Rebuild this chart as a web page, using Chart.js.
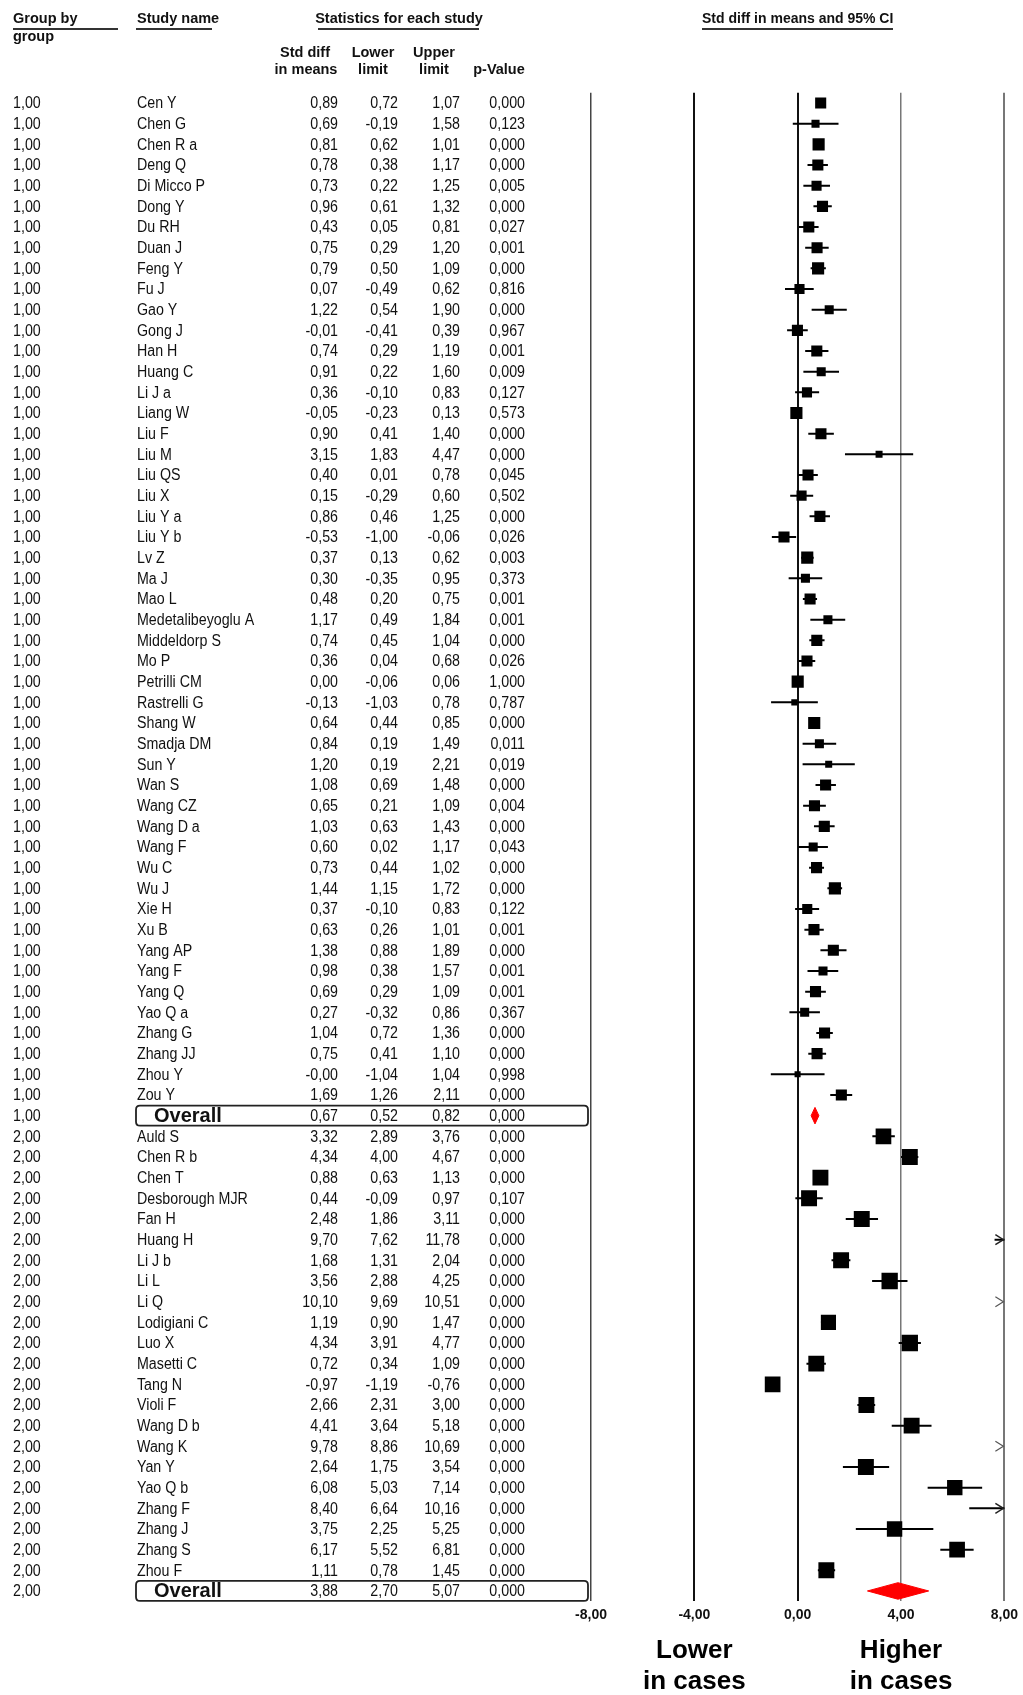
<!DOCTYPE html>
<html>
<head>
<meta charset="utf-8">
<title>Std diff in means and 95% CI</title>
<script src="https://cdn.jsdelivr.net/npm/chart.js@4.4.1/dist/chart.umd.min.js"></script>
<style>
  body { margin: 0; background: #fff; }
  #wrap { position: relative; width: 1023px; height: 1695px; }
</style>
</head>
<body>
<div id="wrap"><canvas id="forest"></canvas></div>
<script>
var groupLabels = ['1,00', '2,00'];

// group 1
var names1 = ['Cen Y', 'Chen G', 'Chen R a', 'Deng Q', 'Di Micco P', 'Dong Y', 'Du RH', 'Duan J', 'Feng Y', 'Fu J',
  'Gao Y', 'Gong J', 'Han H', 'Huang C', 'Li J a', 'Liang W', 'Liu F', 'Liu M', 'Liu QS', 'Liu X',
  'Liu Y a', 'Liu Y b', 'Lv Z', 'Ma J', 'Mao L', 'Medetalibeyoglu A', 'Middeldorp S', 'Mo P', 'Petrilli CM', 'Rastrelli G',
  'Shang W', 'Smadja DM', 'Sun Y', 'Wan S', 'Wang CZ', 'Wang D a', 'Wang F', 'Wu C', 'Wu J', 'Xie H',
  'Xu B', 'Yang AP', 'Yang F', 'Yang Q', 'Yao Q a', 'Zhang G', 'Zhang JJ', 'Zhou Y', 'Zou Y'];
var effect1 = [0.89, 0.69, 0.81, 0.78, 0.73, 0.96, 0.43, 0.75, 0.79, 0.07,
  1.22, -0.01, 0.74, 0.91, 0.36, -0.05, 0.90, 3.15, 0.40, 0.15,
  0.86, -0.53, 0.37, 0.30, 0.48, 1.17, 0.74, 0.36, 0.00, -0.13,
  0.64, 0.84, 1.20, 1.08, 0.65, 1.03, 0.60, 0.73, 1.44, 0.37,
  0.63, 1.38, 0.98, 0.69, 0.27, 1.04, 0.75, -0.004, 1.69];
var lower1 = [0.72, -0.19, 0.62, 0.38, 0.22, 0.61, 0.05, 0.29, 0.50, -0.49,
  0.54, -0.41, 0.29, 0.22, -0.10, -0.23, 0.41, 1.83, 0.01, -0.29,
  0.46, -1.00, 0.13, -0.35, 0.20, 0.49, 0.45, 0.04, -0.06, -1.03,
  0.44, 0.19, 0.19, 0.69, 0.21, 0.63, 0.02, 0.44, 1.15, -0.10,
  0.26, 0.88, 0.38, 0.29, -0.32, 0.72, 0.41, -1.04, 1.26];
var upper1 = [1.07, 1.58, 1.01, 1.17, 1.25, 1.32, 0.81, 1.20, 1.09, 0.62,
  1.90, 0.39, 1.19, 1.60, 0.83, 0.13, 1.40, 4.47, 0.78, 0.60,
  1.25, -0.06, 0.62, 0.95, 0.75, 1.84, 1.04, 0.68, 0.06, 0.78,
  0.85, 1.49, 2.21, 1.48, 1.09, 1.43, 1.17, 1.02, 1.72, 0.83,
  1.01, 1.89, 1.57, 1.09, 0.86, 1.36, 1.10, 1.04, 2.11];
var pValue1 = [0.000, 0.123, 0.000, 0.000, 0.005, 0.000, 0.027, 0.001, 0.000, 0.816,
  0.000, 0.967, 0.001, 0.009, 0.127, 0.573, 0.000, 0.000, 0.045, 0.502,
  0.000, 0.026, 0.003, 0.373, 0.001, 0.001, 0.000, 0.026, 1.000, 0.787,
  0.000, 0.011, 0.019, 0.000, 0.004, 0.000, 0.043, 0.000, 0.000, 0.122,
  0.001, 0.000, 0.001, 0.001, 0.367, 0.000, 0.000, 0.998, 0.000];
// relative weights (square area)
var weight1 = [3.0, 1.6, 3.6, 3.0, 2.5, 3.0, 3.0, 3.0, 3.6, 2.5,
  2.0, 3.0, 3.0, 2.0, 2.5, 3.6, 3.0, 1.2, 3.0, 2.5,
  3.0, 3.0, 3.6, 2.0, 3.0, 2.0, 3.0, 3.0, 3.6, 0.9,
  3.6, 2.0, 1.2, 3.0, 3.0, 3.0, 2.0, 3.0, 3.6, 2.5,
  3.0, 3.0, 2.0, 3.0, 2.0, 3.0, 3.0, 0.9, 3.0];

// group 2
var names2 = ['Auld S', 'Chen R b', 'Chen T', 'Desborough MJR', 'Fan H', 'Huang H', 'Li J b', 'Li L', 'Li Q', 'Lodigiani C',
  'Luo X', 'Masetti C', 'Tang N', 'Violi F', 'Wang D b', 'Wang K', 'Yan Y', 'Yao Q b', 'Zhang F', 'Zhang J',
  'Zhang S', 'Zhou F'];
var effect2 = [3.32, 4.34, 0.88, 0.44, 2.48, 9.70, 1.68, 3.56, 10.10, 1.19,
  4.34, 0.72, -0.97, 2.66, 4.41, 9.78, 2.64, 6.08, 8.40, 3.75,
  6.17, 1.11];
var lower2 = [2.89, 4.00, 0.63, -0.09, 1.86, 7.62, 1.31, 2.88, 9.69, 0.90,
  3.91, 0.34, -1.19, 2.31, 3.64, 8.86, 1.75, 5.03, 6.64, 2.25,
  5.52, 0.78];
var upper2 = [3.76, 4.67, 1.13, 0.97, 3.11, 11.78, 2.04, 4.25, 10.51, 1.47,
  4.77, 1.09, -0.76, 3.00, 5.18, 10.69, 3.54, 7.14, 10.16, 5.25,
  6.81, 1.45];
var pValue2 = [0.000, 0.000, 0.000, 0.107, 0.000, 0.000, 0.000, 0.000, 0.000, 0.000,
  0.000, 0.000, 0.000, 0.000, 0.000, 0.000, 0.000, 0.000, 0.000, 0.000,
  0.000, 0.000];
var weight2 = [6.0, 6.2, 6.2, 6.2, 6.2, 5.8, 6.2, 6.5, 6.2, 5.6,
  6.5, 6.2, 6.0, 6.2, 6.2, 6.0, 6.2, 5.8, 5.6, 5.8,
  6.0, 6.2];

var overallEffect = [0.67, 3.88];
var overallLower = [0.52, 2.70];
var overallUpper = [0.82, 5.07];
var overallP = [0.000, 0.000];

var xTicks = [-8, -4, 0, 4, 8];

var rows = [];
function addGroup(g, names, es, lo, hi, p, w) {
  for (var i = 0; i < names.length; i++) {
    rows.push({ group: groupLabels[g], name: names[i], es: es[i], lo: lo[i], hi: hi[i], p: p[i], w: w[i], overall: false });
  }
  rows.push({ group: groupLabels[g], name: 'Overall', es: overallEffect[g], lo: overallLower[g], hi: overallUpper[g], p: overallP[g], overall: true });
}
addGroup(0, names1, effect1, lower1, upper1, pValue1, weight1);
addGroup(1, names2, effect2, lower2, upper2, pValue2, weight2);

function fmt(v, d) {
  return v.toFixed(d).replace('.', ',');
}

var ciPoints = [];
var squarePoints = [];
var squareRadius = [];
var diamonds = [];
rows.forEach(function (r, i) {
  if (r.overall) {
    diamonds.push([
      { x: r.lo, y: i }, { x: r.es, y: i - 0.4 }, { x: r.hi, y: i }, { x: r.es, y: i + 0.4 }, { x: r.lo, y: i }
    ]);
  } else {
    ciPoints.push({ x: r.lo, y: i }, { x: r.hi, y: i }, { x: null, y: null });
    squarePoints.push({ x: r.es, y: i });
    squareRadius.push(6.4 * Math.sqrt(r.w) / Math.SQRT2);
  }
});

var FONT = '"Liberation Sans", Arial, sans-serif';

// narrow text, like the condensed font of the table
function narrow(ctx, txt, x, y, align) {
  ctx.save();
  ctx.translate(x, y);
  ctx.scale(0.89, 1);
  ctx.textAlign = align;
  ctx.fillText(txt, 0, 0);
  ctx.restore();
}

function underline(ctx, x1, x2, y) {
  ctx.beginPath();
  ctx.moveTo(x1, y);
  ctx.lineTo(x2, y);
  ctx.stroke();
}

function roundBox(ctx, x, y, w, h, r) {
  ctx.beginPath();
  ctx.moveTo(x + r, y);
  ctx.lineTo(x + w - r, y);
  ctx.quadraticCurveTo(x + w, y, x + w, y + r);
  ctx.lineTo(x + w, y + h - r);
  ctx.quadraticCurveTo(x + w, y + h, x + w - r, y + h);
  ctx.lineTo(x + r, y + h);
  ctx.quadraticCurveTo(x, y + h, x, y + h - r);
  ctx.lineTo(x, y + r);
  ctx.quadraticCurveTo(x, y, x + r, y);
  ctx.closePath();
  ctx.stroke();
}

var tablePlugin = {
  id: 'table',
  afterDatasetsDraw: function (chart) {
    var ctx = chart.ctx;
    var xs = chart.scales.x;
    var ys = chart.scales.y;
    var x8 = xs.getPixelForValue(8);

    // arrows for intervals running off the right edge
    rows.forEach(function (r, i) {
      if (r.overall || r.hi <= 8) return;
      var y = ys.getPixelForValue(i);
      ctx.save();
      ctx.strokeStyle = r.lo > 8 ? '#555' : '#222';
      ctx.lineWidth = r.lo > 8 ? 1.2 : 1.5;
      ctx.beginPath();
      ctx.moveTo(x8 - 9, y - 5);
      ctx.lineTo(x8 - 1, y);
      ctx.lineTo(x8 - 9, y + 5);
      ctx.stroke();
      ctx.restore();
    });
  },
  afterDraw: function (chart) {
    var ctx = chart.ctx;
    var xs = chart.scales.x;
    var ys = chart.scales.y;
    ctx.save();
    ctx.fillStyle = '#111';
    ctx.textBaseline = 'middle';

    // headers
    ctx.font = 'bold 14.5px ' + FONT;
    ctx.textAlign = 'left';
    ctx.fillText('Group by', 13, 19);
    ctx.fillText('group', 13, 37);
    ctx.fillText('Study name', 137, 19);
    ctx.textAlign = 'center';
    ctx.fillText('Statistics for each study', 399, 19);
    ctx.fillText('Std diff', 305, 53);
    ctx.fillText('in means', 306, 70);
    ctx.fillText('Lower', 373, 53);
    ctx.fillText('limit', 373, 70);
    ctx.fillText('Upper', 434, 53);
    ctx.fillText('limit', 434, 70);
    ctx.fillText('p-Value', 499, 70);
    ctx.font = 'bold 14px ' + FONT;
    ctx.fillText('Std diff in means and 95% CI', xs.getPixelForValue(0), 19);

    ctx.strokeStyle = '#333';
    ctx.lineWidth = 2;
    underline(ctx, 13, 118, 29);
    underline(ctx, 136, 212, 29);
    underline(ctx, 318, 479, 29);
    underline(ctx, 702, 893, 29);

    // table rows
    rows.forEach(function (r, i) {
      var y = ys.getPixelForValue(i) + 1;
      ctx.font = '16px ' + FONT;
      ctx.fillStyle = '#111';
      narrow(ctx, r.group, 13, y, 'left');
      if (r.overall) {
        ctx.strokeStyle = '#222';
        ctx.lineWidth = 1.8;
        roundBox(ctx, 136, y - 11, 452, 20, 4);
        ctx.font = 'bold 20px ' + FONT;
        ctx.textAlign = 'left';
        ctx.fillText('Overall', 154, y);
        ctx.font = '16px ' + FONT;
      } else {
        narrow(ctx, r.name, 137, y, 'left');
      }
      narrow(ctx, fmt(r.es, 2), 338, y, 'right');
      narrow(ctx, fmt(r.lo, 2), 398, y, 'right');
      narrow(ctx, fmt(r.hi, 2), 460, y, 'right');
      narrow(ctx, fmt(r.p, 3), 525, y, 'right');
    });

    // direction labels
    ctx.fillStyle = '#000';
    ctx.font = 'bold 26px ' + FONT;
    ctx.textAlign = 'center';
    ctx.fillText('Lower', xs.getPixelForValue(-4), 1651);
    ctx.fillText('in cases', xs.getPixelForValue(-4), 1682);
    ctx.fillText('Higher', xs.getPixelForValue(4), 1651);
    ctx.fillText('in cases', xs.getPixelForValue(4), 1682);
    ctx.restore();
  }
};

var gridColor = { '-8': '#444', '-4': '#111', '0': '#111', '4': '#777', '8': '#777' };
var gridWidth = { '-8': 1.5, '-4': 2, '0': 2, '4': 1.5, '8': 2 };

var diamondSets = diamonds.map(function (d, k) {
  return {
    label: 'Overall ' + groupLabels[k],
    data: d,
    showLine: true,
    fill: 'shape',
    backgroundColor: '#ff0000',
    borderColor: '#ff0000',
    borderWidth: 1,
    pointRadius: 0
  };
});

var ctx = document.getElementById('forest');
var forest = new Chart(ctx, {
  type: 'scatter',
  data: {
    datasets: [{
      label: '95% CI',
      data: ciPoints,
      showLine: true,
      spanGaps: false,
      borderColor: '#000',
      borderWidth: 2,
      pointRadius: 0,
      clip: 0
    }, {
      label: 'Std diff in means',
      data: squarePoints,
      pointStyle: 'rect',
      pointRadius: squareRadius,
      backgroundColor: '#000',
      borderWidth: 0,
      clip: 0
    }].concat(diamondSets)
  },
  options: {
    responsive: true,
    maintainAspectRatio: false,
    animation: false,
    events: [],
    layout: { padding: { left: 591, right: 18, top: 92.7, bottom: 63.7 } },
    plugins: {
      legend: { display: false },
      tooltip: { enabled: false }
    },
    scales: {
      x: {
        type: 'linear',
        min: -8,
        max: 8,
        afterBuildTicks: function (scale) {
          scale.ticks = xTicks.map(function (v) { return { value: v }; });
        },
        afterFit: function (scale) { scale.height = 30; },
        border: { display: false },
        grid: {
          drawTicks: false,
          color: function (c) { return gridColor[String(c.tick.value)] || '#777'; },
          lineWidth: function (c) { return gridWidth[String(c.tick.value)] || 1; }
        },
        ticks: {
          padding: 5,
          color: '#111',
          font: { family: FONT, size: 14, weight: 'bold' },
          callback: function (v) { return fmt(v, 2); }
        }
      },
      y: {
        type: 'linear',
        reverse: true,
        min: -0.5,
        max: rows.length - 0.5,
        display: false
      }
    }
  },
  plugins: [tablePlugin]
});
</script>
</body>
</html>
